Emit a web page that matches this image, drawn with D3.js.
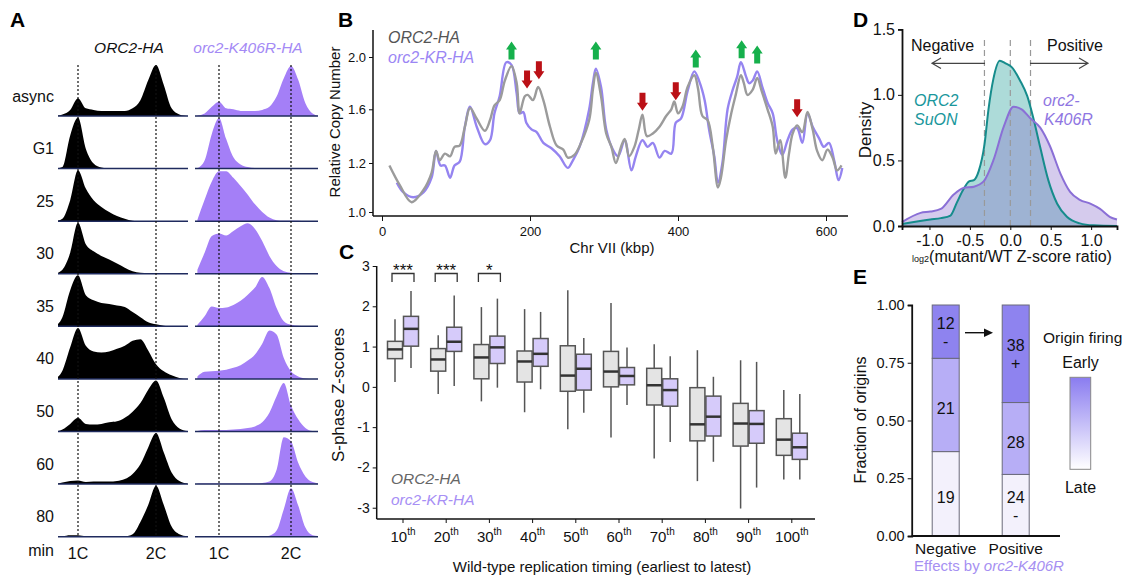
<!DOCTYPE html>
<html><head><meta charset="utf-8">
<script src="https://cdn.jsdelivr.net/npm/d3@7"></script>
<style>body{margin:0;background:#fff;} svg{display:block;font-family:"Liberation Sans",Arial,sans-serif;}</style>
</head><body><svg id="fig" width="1125" height="575"></svg>
<script>
// ---------------- Panel A data (flow cytometry, relative counts) ----------------
const timepoints = ["async","G1","25","30","35","40","50","60","80"];
const dnaContent = [0.7,0.8,0.9,1.0,1.1,1.2,1.3,1.4,1.5,1.6,1.7,1.8,1.9,2.0,2.1,2.2,2.3,2.4];
const wtHist = [
  [0,3,12,35,15,12,10,10,10,10,15,31,70,100,61,15,3,0],
  [0,3,65,100,39,10,2,0,0,0,0,0,0,0,0,0,0,0],
  [0,5,41,100,64,41,28,18,10,5,1,0,0,0,0,0,0,0],
  [0,8,41,100,58,44,35,28,20,12,5,2,1,0,0,0,0,0],
  [0,18,71,100,61,51,46,44,41,38,28,18,8,4,1,0,0,0],
  [0,16,62,100,65,54,52,54,59,65,75,78,56,29,15,7,2,0],
  [0,4,15,27,15,14,15,18,20,27,39,56,82,100,66,24,6,1],
  [0,3,6,7,4,5,5,5,6,10,20,39,72,100,62,23,6,1],
  [0,1,3,3,1,1,1,1,1,1,5,29,62,100,62,20,5,1]
];
const krHist = [
  [1,5,18,28,15,13,10,10,10,12,18,38,74,98,71,25,5,0],
  [1,16,68,99,58,22,8,3,1,0,0,0,0,0,0,0,0,0],
  [3,42,78,98,98,85,69,52,33,18,7,2,1,1,1,0,0,0],
  [8,41,74,79,75,84,93,99,88,64,35,15,5,2,0,0,0,0],
  [3,20,39,36,37,42,50,62,76,97,75,36,10,3,1,0,0,0],
  [5,14,15,16,18,22,27,36,48,69,95,87,41,15,5,1,0,0],
  [1,3,3,3,3,4,5,7,10,18,37,69,95,51,24,7,1,0],
  [1,1,1,1,1,1,1,1,1,2,5,28,92,84,42,15,4,1],
  [0,0,0,0,0,0,0,0,0,0,2,12,54,95,61,18,3,1]
];

// ---------------- Panel B data (Chr VII copy number) ----------------
const kbpWT = [10,24,40,56,67,73,78,85,92,98,105,112,119,128,139,146,152,159,166,175,182,186,193,197,204,211,218,227,236,245,251,260,269,280,285,289,296,303,310,316,323,328,334,341,347,352,358,366,375,384,391,395,400,406,413,422,427,433,440,447,454,458,465,472,478,485,489,494,501,507,513,521,528,532,538,545,550,555,561,568,575,582,588,595,602,609,615,621];
const copyWT = [1.19,1.11,1.04,1.09,1.16,1.29,1.22,1.27,1.25,1.32,1.33,1.47,1.61,1.53,1.44,1.52,1.63,1.67,1.82,1.93,1.80,1.57,1.70,1.71,1.67,1.77,1.67,1.47,1.33,1.30,1.24,1.26,1.35,1.52,1.75,1.88,1.70,1.42,1.32,1.20,1.32,1.38,1.25,1.32,1.45,1.56,1.40,1.42,1.47,1.55,1.60,1.66,1.57,1.62,1.77,1.86,1.76,1.55,1.52,1.32,1.10,1.14,1.37,1.57,1.71,1.86,1.80,1.71,1.75,1.84,1.74,1.60,1.47,1.27,1.37,1.14,1.27,1.42,1.48,1.43,1.58,1.45,1.29,1.22,1.30,1.24,1.17,1.19];
const kbpKR = [20,29,42,56,67,73,79,85,92,98,105,112,119,128,139,146,152,159,168,175,182,186,191,195,202,209,218,229,240,251,258,267,280,285,289,296,303,312,319,328,337,343,352,359,366,375,382,391,397,404,413,422,429,436,442,449,454,460,467,474,480,485,492,496,501,507,514,521,528,534,541,548,555,561,568,575,582,591,597,604,611,617,622];
const copyKR = [1.12,1.08,1.06,1.08,1.14,1.29,1.19,1.19,1.14,1.19,1.21,1.47,1.62,1.47,1.34,1.37,1.57,1.70,1.96,1.94,1.72,1.57,1.58,1.50,1.45,1.43,1.35,1.31,1.25,1.18,1.22,1.32,1.60,1.80,1.91,1.77,1.45,1.30,1.25,1.37,1.17,1.25,1.37,1.32,1.35,1.24,1.29,1.27,1.50,1.53,1.74,1.89,1.81,1.67,1.45,1.25,1.12,1.20,1.60,1.75,1.85,1.96,1.85,1.80,1.82,1.89,1.77,1.65,1.57,1.37,1.26,1.37,1.45,1.46,1.35,1.57,1.47,1.38,1.32,1.35,1.22,1.13,1.18];
const copyTicks = [1.0,1.2,1.6,2.0];
const kbpTicks = [0,200,400,600];
const upArrowKbp = [175,289,424,486,507];
const upArrowCopy = [1.98,1.98,1.92,1.99,1.95];
const downArrowKbp = [196,212,352,397,561];
const downArrowCopy = [1.76,1.83,1.59,1.67,1.54];

// ---------------- Panel C data (S-phase Z-scores box plots) ----------------
const timingBins = ["10","20","30","40","50","60","70","80","90","100"];
const wtLow  = [0.12,-0.18,-0.36,-0.63,-1.05,-1.26,-1.78,-2.34,-3.02,-2.30];
const wtQ1   = [0.70,0.39,0.20,0.12,-0.11,0.00,-0.45,-1.34,-1.47,-1.70];
const wtMed  = [0.93,0.68,0.73,0.63,0.28,0.38,0.04,-0.93,-0.91,-1.31];
const wtQ3   = [1.13,0.95,1.05,0.89,1.02,0.88,0.46,-0.02,-0.41,-0.79];
const wtHigh = [1.68,1.28,1.98,1.93,2.40,2.08,1.06,0.91,0.66,-0.08];
const krLow  = [0.47,0.02,-0.02,-0.06,-0.64,-0.45,-1.37,-1.86,-2.50,-2.30];
const krQ1   = [1.01,0.88,0.58,0.51,-0.08,0.05,-0.48,-1.22,-1.40,-1.80];
const krMed  = [1.44,1.12,0.98,0.82,0.45,0.27,-0.08,-0.74,-0.92,-1.50];
const krQ3   = [1.75,1.48,1.26,1.20,0.81,0.48,0.20,-0.23,-0.59,-1.15];
const krHigh = [2.38,2.27,2.19,1.86,1.21,0.98,0.76,0.25,0.62,-0.18];
const sigLabels = ["***","***","*"];
const zTicks = [-3,-2,-1,0,1,2,3];

// ---------------- Panel D data (density) ----------------
const suonX = [-1.34,-0.99,-0.86,-0.74,-0.66,-0.58,-0.51,-0.45,-0.39,-0.32,-0.27,-0.21,-0.13,-0.06,0.02,0.12,0.21,0.29,0.37,0.47,0.58,0.70,0.86,1.03,1.32];
const suonY = [0.015,0.05,0.06,0.08,0.18,0.28,0.34,0.35,0.42,0.62,0.89,1.12,1.26,1.24,1.21,1.11,0.99,0.81,0.60,0.35,0.17,0.07,0.02,0.005,0];
const k406rX = [-1.34,-1.11,-0.99,-0.86,-0.70,-0.58,-0.45,-0.33,-0.21,-0.08,0.04,0.14,0.25,0.37,0.49,0.62,0.74,0.86,0.99,1.11,1.23,1.32];
const k406rY = [0.03,0.10,0.11,0.13,0.24,0.29,0.30,0.34,0.50,0.76,0.91,0.89,0.82,0.75,0.61,0.40,0.26,0.20,0.17,0.13,0.07,0.05];
const densityTicks = [0,0.5,1.0,1.5];
const ratioTicks = [-1.0,-0.5,0,0.5,1.0];
const thresholds = [-0.32,0,0.25];

// ---------------- Panel E data (origin counts) ----------------
const effectGroups = ["Negative","Positive"];
const lateCounts = [19,24];
const midCounts = [21,28];
const earlyCounts = [12,38];
const earlySigns = ["-","+"];
const lateSigns = ["","-"];
const fractionTicks = [0,0.25,0.5,0.75,1.0];

// =====================================================================
const svg = d3.select("#fig");
const defs = svg.append("defs");
function txt(g, x, y, s, o = {}) {
  const t = g.append("text").attr("x", x).attr("y", y).text(s)
    .attr("font-size", o.size || 15).attr("fill", o.fill || "#111")
    .attr("text-anchor", o.anchor || "start")
    .attr("dominant-baseline", o.baseline || "central");
  if (o.italic) t.attr("font-style", "italic");
  if (o.bold) t.attr("font-weight", "bold");
  if (o.rotate) t.attr("transform", `rotate(${o.rotate},${x},${y})`);
  return t;
}
// panel letters
[["A",10,27],["B",338,27],["C",339,259],["D",853,27],["E",853,284]].forEach(([l,x,y]) =>
  txt(svg, x, y, l, {size:21, bold:true, baseline:"alphabetic", fill:"#000"}));

// ---------------- Panel A ----------------
const gA = svg.append("g");
const rowY = d3.scalePoint().domain(timepoints).range([116, 536.7]);
const hY = d3.scaleLinear().domain([0, 100]).range([0, 51]);
const cols = [
  {data: wtHist, x: d3.scaleLinear().domain([1,2]).range([78,156]), x0: 58, x1: 188, fill: "#000", id: "clipWT"},
  {data: krHist, x: d3.scaleLinear().domain([1,2]).range([219,291]), x0: 195, x1: 318, fill: "#a47ff7", id: "clipKR"}
];
cols.forEach(c => {
  defs.append("clipPath").attr("id", c.id).append("rect")
    .attr("x", c.x0).attr("y", 0).attr("width", c.x1 - c.x0).attr("height", 575);
  const g = gA.append("g").attr("clip-path", `url(#${c.id})`);
  timepoints.forEach((tp, i) => {
    const base = rowY(tp);
    const area = d3.area().x((d, j) => c.x(dnaContent[j])).y0(base).y1(d => base - hY(d)).curve(d3.curveMonotoneX);
    g.append("path").datum(c.data[i]).attr("d", area).attr("fill", c.fill);
  });
  timepoints.forEach(tp => gA.append("line").attr("x1", c.x0).attr("x2", c.x1)
    .attr("y1", rowY(tp)).attr("y2", rowY(tp)).attr("stroke", "#1f2b5e").attr("stroke-width", 1.5));
  [1, 2].forEach(v => {
    gA.append("line").attr("x1", c.x(v)).attr("x2", c.x(v)).attr("y1", 65).attr("y2", 537)
      .attr("stroke", "#111").attr("stroke-width", 1.2).attr("stroke-dasharray", "2,2");
    txt(gA, c.x(v), 553, v + "C", {size: 16, anchor: "middle"});
  });
});
timepoints.forEach(tp => txt(gA, 54, rowY(tp) - 20, tp, {size: 16, anchor: "end"}));
txt(gA, 54, 550, "min", {size: 16, anchor: "end"});
txt(gA, 129, 47, "ORC2-HA", {size: 15.5, anchor: "middle", italic: true});
txt(gA, 248, 47, "orc2-K406R-HA", {size: 15.5, anchor: "middle", italic: true, fill: "#a48af5"});

// ---------------- Panel B ----------------
const gB = svg.append("g");
const xB = d3.scaleLinear().domain([0, 600]).range([382, 826]);
const yB = d3.scaleLinear().domain([1.0, 1.2, 1.6, 2.0]).range([212, 163, 109.3, 57]);
gB.append("line").attr("x1", 373).attr("x2", 373).attr("y1", 30).attr("y2", 216).attr("stroke", "#111").attr("stroke-width", 1.5);
gB.append("line").attr("x1", 373).attr("x2", 848).attr("y1", 216).attr("y2", 216).attr("stroke", "#111").attr("stroke-width", 1.5);
const axYB = gB.append("g").attr("transform", "translate(373,0)")
  .call(d3.axisLeft(yB).tickValues(copyTicks).tickFormat(d => d.toFixed(1)).tickSize(4));
const axXB = gB.append("g").attr("transform", "translate(0,216)")
  .call(d3.axisBottom(xB).tickValues(kbpTicks).tickSize(5));
[axYB, axXB].forEach(a => { a.select(".domain").remove(); a.selectAll("text").attr("font-size", 13).attr("fill", "#111").attr("font-family", null); a.selectAll("line").attr("stroke", "#111"); });
axXB.selectAll("text").attr("dy", "0.9em");
txt(gB, 612, 247, "Chr VII (kbp)", {size: 15, anchor: "middle"});
txt(gB, 334, 122, "Relative Copy Number", {size: 15, anchor: "middle", rotate: -90});
const lineB = d3.line().x(d => xB(d[0])).y(d => yB(d[1])).curve(d3.curveCatmullRom.alpha(0.5));
gB.append("path").datum(d3.zip(kbpKR, copyKR)).attr("d", lineB).attr("fill", "none").attr("stroke", "#9584f0").attr("stroke-width", 2.4);
gB.append("path").datum(d3.zip(kbpWT, copyWT)).attr("d", lineB).attr("fill", "none").attr("stroke", "#9b9b9b").attr("stroke-width", 2.4);
txt(gB, 388, 37, "ORC2-HA", {size: 16, italic: true, fill: "#555"});
txt(gB, 388, 57, "orc2-KR-HA", {size: 16, italic: true, fill: "#9b86f4"});
const L = 18, HH = 8, HW = 5.5, SW = 3;
upArrowKbp.forEach((k, i) => {
  const cx = xB(k), yb = yB(upArrowCopy[i]), yt = yb - L;
  gB.append("path").attr("d", `M${cx},${yt}L${cx+HW},${yt+HH}L${cx+SW},${yt+HH}L${cx+SW},${yb}L${cx-SW},${yb}L${cx-SW},${yt+HH}L${cx-HW},${yt+HH}Z`).attr("fill", "#16b04c");
});
downArrowKbp.forEach((k, i) => {
  const cx = xB(k), yt = yB(downArrowCopy[i]), ys = yt - L;
  gB.append("path").attr("d", `M${cx},${yt}L${cx+HW},${yt-HH}L${cx+SW},${yt-HH}L${cx+SW},${ys}L${cx-SW},${ys}L${cx-SW},${yt-HH}L${cx-HW},${yt-HH}Z`).attr("fill", "#bb1016");
});

// ---------------- Panel C ----------------
const gC = svg.append("g");
const xC = d3.scaleBand().domain(timingBins).range([381.4, 813.4]);
const yC = d3.scaleLinear().domain([-3.28, 3]).range([519, 266]);
gC.append("line").attr("x1", 376.7).attr("x2", 376.7).attr("y1", 266).attr("y2", 519).attr("stroke", "#111").attr("stroke-width", 1.5);
gC.append("line").attr("x1", 376.7).attr("x2", 815).attr("y1", 519).attr("y2", 519).attr("stroke", "#111").attr("stroke-width", 1.5);
const axYC = gC.append("g").attr("transform", "translate(376.7,0)").call(d3.axisLeft(yC).tickValues(zTicks).tickFormat(d => String(d)).tickSize(4));
axYC.select(".domain").remove();
axYC.selectAll("text").attr("font-size", 14).attr("fill", "#111").attr("font-family", null);
axYC.selectAll("line").attr("stroke", "#111");
const cx = d => xC(d) + xC.bandwidth() / 2;
const BW = 15;
function drawBox(center, lo, q1, med, q3, hi, fill) {
  gC.append("line").attr("x1", center).attr("x2", center).attr("y1", yC(hi)).attr("y2", yC(lo)).attr("stroke", "#555").attr("stroke-width", 1.5);
  gC.append("rect").attr("x", center - BW/2).attr("width", BW).attr("y", yC(q3)).attr("height", yC(q1) - yC(q3))
    .attr("fill", fill).attr("stroke", "#555").attr("stroke-width", 1.5);
  gC.append("line").attr("x1", center - BW/2).attr("x2", center + BW/2).attr("y1", yC(med)).attr("y2", yC(med)).attr("stroke", "#333").attr("stroke-width", 2.5);
}
timingBins.forEach((b, i) => {
  const c = cx(b);
  drawBox(c - 8, wtLow[i], wtQ1[i], wtMed[i], wtQ3[i], wtHigh[i], "#e4e4e4");
  drawBox(c + 8, krLow[i], krQ1[i], krMed[i], krQ3[i], krHigh[i], "#d6cbfa");
  gC.append("line").attr("x1", c).attr("x2", c).attr("y1", 519).attr("y2", 523).attr("stroke", "#111");
  const t = gC.append("text").attr("x", c).attr("y", 536).attr("text-anchor", "middle").attr("dominant-baseline", "central").attr("font-size", 15).attr("fill", "#111");
  t.append("tspan").text(b);
  t.append("tspan").text("th").attr("font-size", 10).attr("dy", -5);
});
sigLabels.forEach((s, i) => {
  const c = cx(timingBins[i]);
  gC.append("path").attr("d", `M${c-11},${282}V${273.5}H${c+11}V${282}`).attr("fill", "none").attr("stroke", "#333").attr("stroke-width", 1.3);
  txt(gC, c, 270, s, {size: 17, anchor: "middle"});
});
txt(gC, 338, 395, "S-phase Z-scores", {size: 17, anchor: "middle", rotate: -90});
txt(gC, 602, 566, "Wild-type replication timing (earliest to latest)", {size: 15, anchor: "middle"});
txt(gC, 391, 478, "ORC2-HA", {size: 15.5, italic: true, fill: "#666"});
txt(gC, 391, 499, "orc2-KR-HA", {size: 15.5, italic: true, fill: "#a78ff5"});

// ---------------- Panel D ----------------
const gD = svg.append("g");
const xD = d3.scaleLinear().domain([-1.34, 1.32]).range([902, 1117]);
const yD = d3.scaleLinear().domain([0, 1.5]).range([226, 29.3]);
const areaD = d3.area().x(d => xD(d[0])).y0(yD(0)).y1(d => yD(d[1])).curve(d3.curveMonotoneX);
const lineD = d3.line().x(d => xD(d[0])).y(d => yD(d[1])).curve(d3.curveMonotoneX);
const suon = d3.zip(suonX, suonY), k406 = d3.zip(k406rX, k406rY);
gD.append("path").datum(suon).attr("d", areaD).attr("fill", "#1b9a96").attr("fill-opacity", 0.36);
gD.append("path").datum(k406).attr("d", areaD).attr("fill", "#7e62c8").attr("fill-opacity", 0.33);
thresholds.forEach(t => gD.append("line").attr("x1", xD(t)).attr("x2", xD(t)).attr("y1", 40).attr("y2", 226)
  .attr("stroke", "#999").attr("stroke-width", 1.2).attr("stroke-dasharray", "6,4"));
gD.append("path").datum(suon).attr("d", lineD).attr("fill", "none").attr("stroke", "#168c8c").attr("stroke-width", 2);
gD.append("path").datum(k406).attr("d", lineD).attr("fill", "none").attr("stroke", "#8a6fd6").attr("stroke-width", 2);
const axYD = gD.append("g").attr("transform", "translate(902,0)").call(d3.axisLeft(yD).tickValues(densityTicks).tickFormat(d => d.toFixed(1)).tickSize(4));
const axXD = gD.append("g").attr("transform", "translate(0,226)").call(d3.axisBottom(xD).tickValues(ratioTicks).tickFormat(d => d.toFixed(1)).tickSize(4));
[axYD, axXD].forEach(a => {
  a.select(".domain").attr("stroke", "#111").attr("stroke-width", 1.8);
  a.selectAll("text").attr("font-size", 16).attr("fill", "#111").attr("font-family", null);
  a.selectAll("line").attr("stroke", "#111");
});
axXD.selectAll("text").attr("dy", "0.8em");
txt(gD, 865, 130, "Density", {size: 17, anchor: "middle", rotate: -90});
const xl = gD.append("text").attr("x", 1012).attr("y", 256).attr("text-anchor", "middle").attr("dominant-baseline", "central").attr("font-size", 16).attr("fill", "#111");
xl.append("tspan").text("log2").attr("font-size", 9).attr("dy", 3);
xl.append("tspan").text("(mutant/WT Z-score ratio)").attr("dy", -3);
txt(gD, 942.5, 45, "Negative", {size: 16, anchor: "middle"});
txt(gD, 1075, 45, "Positive", {size: 16, anchor: "middle"});
gD.append("path").attr("d", "M985,63.3H932M941,58L932,63.3L941,68.6").attr("fill", "none").attr("stroke", "#444").attr("stroke-width", 1.2);
gD.append("path").attr("d", "M1030,63.3H1088M1079,58L1088,63.3L1079,68.6").attr("fill", "none").attr("stroke", "#444").attr("stroke-width", 1.2);
txt(gD, 914, 100, "ORC2", {size: 16, italic: true, fill: "#1a979c"});
txt(gD, 914, 119, "SuON", {size: 16, italic: true, fill: "#1a979c"});
txt(gD, 1043, 100, "orc2-", {size: 16, italic: true, fill: "#8f76e2"});
txt(gD, 1044, 119, "K406R", {size: 16, italic: true, fill: "#8f76e2"});

// ---------------- Panel E ----------------
const gE = svg.append("g");
const xE = d3.scalePoint().domain(effectGroups).range([945.7, 1015.7]);
const yE = d3.scaleLinear().domain([0, 1]).range([536, 305]);
const tableE = effectGroups.map((g, i) => ({group: g, late: lateCounts[i], mid: midCounts[i], early: earlyCounts[i]}));
const stackE = d3.stack().keys(["late", "mid", "early"]).offset(d3.stackOffsetExpand)(tableE);
const segFill = {late: "#f3f1fc", mid: "#b7aef6", early: "#8e83ef"};
const EW = 27;
stackE.forEach(layer => {
  layer.forEach((d, i) => {
    gE.append("rect").attr("x", xE(effectGroups[i]) - EW/2).attr("width", EW)
      .attr("y", yE(d[1])).attr("height", yE(d[0]) - yE(d[1]))
      .attr("fill", segFill[layer.key]).attr("stroke", "#6a6a7a").attr("stroke-width", 1);
    const count = tableE[i][layer.key];
    const sign = layer.key === "early" ? earlySigns[i] : layer.key === "late" ? lateSigns[i] : "";
    const mid = (yE(d[0]) + yE(d[1])) / 2;
    if (sign) {
      txt(gE, xE(effectGroups[i]), mid - 8, String(count), {size: 16, anchor: "middle"});
      txt(gE, xE(effectGroups[i]), mid + 10, sign, {size: 16, anchor: "middle"});
    } else {
      txt(gE, xE(effectGroups[i]), mid + 4, String(count), {size: 16, anchor: "middle"});
    }
  });
});
const axYE = gE.append("g").attr("transform", "translate(911.7,0)").call(d3.axisLeft(yE).tickValues(fractionTicks).tickFormat(d3.format(".2f")).tickSize(4));
axYE.select(".domain").attr("stroke", "#111").attr("stroke-width", 1.8);
axYE.selectAll("text").attr("font-size", 14.5).attr("fill", "#111").attr("font-family", null);
axYE.selectAll("line").attr("stroke", "#111");
gE.append("line").attr("x1", 911.7).attr("x2", 1060).attr("y1", 536).attr("y2", 536).attr("stroke", "#111").attr("stroke-width", 1.8);
effectGroups.forEach(g => txt(gE, xE(g), 548, g, {size: 15.5, anchor: "middle"}));
const eff = gE.append("text").attr("x", 989).attr("y", 565).attr("text-anchor", "middle").attr("dominant-baseline", "central").attr("font-size", 15).attr("fill", "#a690f2");
eff.append("tspan").text("Effects by ");
eff.append("tspan").text("orc2-K406R").attr("font-style", "italic");
txt(gE, 860, 420, "Fraction of origins", {size: 16, anchor: "middle", rotate: -90});
gE.append("path").attr("d", "M965,332.7H986").attr("stroke", "#111").attr("stroke-width", 1.4);
gE.append("path").attr("d", "M993,332.7L984,328.5L984,336.9Z").attr("fill", "#111");
const grad = defs.append("linearGradient").attr("id", "gradE").attr("x1", 0).attr("x2", 0).attr("y1", 0).attr("y2", 1);
grad.append("stop").attr("offset", "0%").attr("stop-color", "#8a7cf0");
grad.append("stop").attr("offset", "100%").attr("stop-color", "#ffffff");
gE.append("rect").attr("x", 1070).attr("y", 377.3).attr("width", 20.7).attr("height", 92).attr("fill", "url(#gradE)").attr("stroke", "#888").attr("stroke-width", 1);
txt(gE, 1043, 337, "Origin firing", {size: 15.5});
txt(gE, 1080.5, 362, "Early", {size: 16, anchor: "middle"});
txt(gE, 1080.5, 487, "Late", {size: 16, anchor: "middle"});
</script></body></html>
